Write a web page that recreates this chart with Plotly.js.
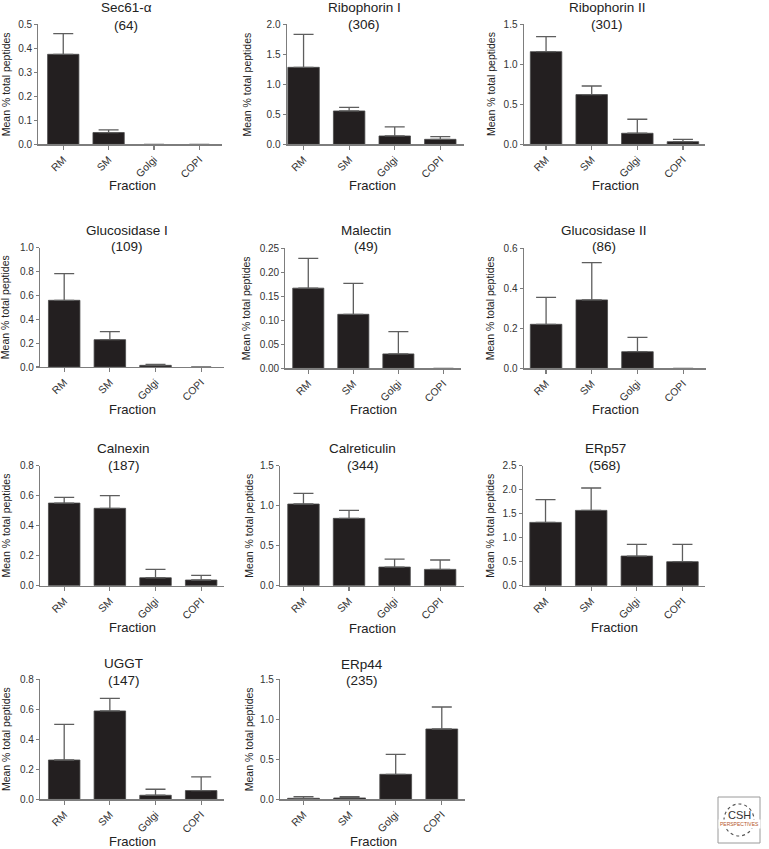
<!DOCTYPE html>
<html><head><meta charset="utf-8">
<script src="https://cdn.plot.ly/plotly-3.0.1.min.js"></script>
<style>html,body{margin:0;padding:0;background:#fff}#chart{width:769px;height:849px}</style>
</head><body><div id="chart"></div>
<script>
// ---------- data ----------
const fractions = ['RM', 'SM', 'Golgi', 'COPI'];
const proteinNames = ['Sec61-α', 'Ribophorin I', 'Ribophorin II', 'Glucosidase I', 'Malectin', 'Glucosidase II', 'Calnexin', 'Calreticulin', 'ERp57', 'UGGT', 'ERp44'];
const peptideCounts = [64, 306, 301, 109, 49, 86, 187, 344, 568, 147, 235];

const meanSec61 = [0.375, 0.049, 0, 0];
const errSec61 = [0.086, 0.011, 0, 0];
const meanRibophorin1 = [1.283, 0.556, 0.139, 0.083];
const errRibophorin1 = [0.55, 0.061, 0.15, 0.045];
const meanRibophorin2 = [1.158, 0.621, 0.138, 0.033];
const errRibophorin2 = [0.188, 0.108, 0.175, 0.029];
const meanGlucosidase1 = [0.559, 0.229, 0.014, 0];
const errGlucosidase1 = [0.223, 0.067, 0.008, 0];
const meanMalectin = [0.167, 0.1125, 0.030, 0];
const errMalectin = [0.062, 0.0645, 0.0465, 0];
const meanGlucosidase2 = [0.22, 0.342, 0.083, 0];
const errGlucosidase2 = [0.135, 0.186, 0.072, 0];
const meanCalnexin = [0.551, 0.516, 0.053, 0.038];
const errCalnexin = [0.038, 0.084, 0.056, 0.031];
const meanCalreticulin = [1.021, 0.842, 0.233, 0.204];
const errCalreticulin = [0.133, 0.10, 0.10, 0.117];
const meanERp57 = [1.319, 1.569, 0.618, 0.50];
const errERp57 = [0.473, 0.466, 0.243, 0.361];
const meanUGGT = [0.262, 0.589, 0.027, 0.058];
const errUGGT = [0.238, 0.084, 0.04, 0.091];
const meanERp44 = [0.0125, 0.0167, 0.3125, 0.879];
const errERp44 = [0.0205, 0.0163, 0.25, 0.275];

const yAxisMax = [0.5, 2.0, 1.5, 1.0, 0.25, 0.6, 0.8, 1.5, 2.5, 0.8, 1.5];
const yAxisStep = [0.1, 0.5, 0.5, 0.2, 0.05, 0.2, 0.2, 0.5, 0.5, 0.2, 0.5];

const xTitleText = 'Fraction';
const yTitleText = 'Mean % total peptides';

const allMeans = [meanSec61, meanRibophorin1, meanRibophorin2, meanGlucosidase1, meanMalectin, meanGlucosidase2, meanCalnexin, meanCalreticulin, meanERp57, meanUGGT, meanERp44];
const allErrs = [errSec61, errRibophorin1, errRibophorin2, errGlucosidase1, errMalectin, errGlucosidase2, errCalnexin, errCalreticulin, errERp57, errUGGT, errERp44];

// ---------- layout geometry (pixels) ----------
const W = 769, H = 849;
const geom = [
  {x0:38.3, x1:222,   r0:-0.55, r1:3.5,  top:24.3,  bot:144.3, tx:126,   ty1:7.5,   ty2:25.3,  fx:132.3, fy:185,   yx:6},
  {x0:286.7,x1:464,   r0:-0.37, r1:3.52, top:24.3,  bot:144.3, tx:364.3, ty1:7.2,   ty2:25,    fx:372.3, fy:185,   yx:247.3},
  {x0:523.7,x1:705.3, r0:-0.49, r1:3.49, top:24.3,  bot:144.3, tx:607,   ty1:7.2,   ty2:25,    fx:615,   fy:185.8, yx:491.7},
  {x0:40,   x1:224,   r0:-0.53, r1:3.5,  top:247.7, bot:367,   tx:126.7, ty1:230.3, ty2:246.7, fx:132.8, fy:409.2, yx:5.8},
  {x0:285.3,x1:461,   r0:-0.51, r1:3.39, top:248.3, bot:368.3, tx:366,   ty1:230.5, ty2:246.7, fx:373.5, fy:409.2, yx:246},
  {x0:523.7,x1:706,   r0:-0.49, r1:3.5,  top:248.3, bot:368.3, tx:604,   ty1:230.5, ty2:246.7, fx:615,   fy:409.5, yx:490},
  {x0:40,   x1:224,   r0:-0.53, r1:3.5,  top:465.7, bot:585.7, tx:123.7, ty1:448.8, ty2:465,   fx:132.8, fy:627.5, yx:5.8},
  {x0:280,  x1:464.3, r0:-0.515,r1:3.53, top:465.7, bot:585.7, tx:362.7, ty1:448.8, ty2:465,   fx:372.3, fy:628,   yx:249},
  {x0:522.7,x1:705.3, r0:-0.5,  r1:3.5,  top:465.7, bot:585.7, tx:605,   ty1:448.8, ty2:465,   fx:614,   fy:627,   yx:490},
  {x0:40,   x1:224,   r0:-0.53, r1:3.5,  top:679.3, bot:799.3, tx:123.8, ty1:663.8, ty2:680.8, fx:132.8, fy:841.5, yx:5.8},
  {x0:280,  x1:465.3, r0:-0.51, r1:3.51, top:679.3, bot:799.3, tx:362.3, ty1:664.2, ty2:680.7, fx:373.5, fy:841,   yx:249}
];
const px = x => x / W;
const py = y => 1 - y / H;

const FONT = 'Liberation Sans, Arial, Helvetica, sans-serif';
const AXC = '#7d7d7d';
const traces = [];
const layout = {
  width: W, height: H,
  margin: {l:0, r:0, t:0, b:0},
  paper_bgcolor: '#ffffff', plot_bgcolor: '#ffffff',
  showlegend: false,
  bargap: 0.31,
  font: {family: FONT, color: '#222'},
  annotations: [],
  shapes: []
};

geom.forEach((g, i) => {
  const n = i === 0 ? '' : String(i + 1);
  const means = allMeans[i];
  traces.push({
    type: 'bar',
    x: fractions,
    y: means,
    xaxis: 'x' + n, yaxis: 'y' + n,
    marker: {color: '#231f20', line: {color: '#4a4a4a', width: means.map(v => v > 0 ? 0.8 : 0)}},
    error_y: {type: 'data', symmetric: false,
              array: allErrs[i].map(v => v > 0 ? v : null),
              arrayminus: means.map(() => 0),
              color: '#5e5e5e', thickness: 1.3, width: 10},
    hoverinfo: 'x+y'
  });
  const dec = yAxisStep[i] < 0.1 ? 2 : 1;
  layout['xaxis' + n] = {
    domain: [px(g.x0), px(g.x1)], anchor: 'y' + n, type: 'category',
    range: [g.r0, g.r1], showline: true, linecolor: AXC, linewidth: 1.2,
    ticks: 'outside', ticklen: 4, tickcolor: AXC, tickwidth: 1.2,
    tickangle: -45, tickfont: {family: FONT, size: 10.5, color: '#333'},
    showgrid: false, zeroline: false, fixedrange: true
  };
  layout['yaxis' + n] = {
    domain: [py(g.bot), py(g.top)], anchor: 'x' + n,
    range: [0, yAxisMax[i]], tickmode: 'linear', tick0: 0, dtick: yAxisStep[i],
    tickformat: '.' + dec + 'f',
    showline: true, linecolor: AXC, linewidth: 1.2,
    ticks: 'outside', ticklen: 3, tickcolor: AXC, tickwidth: 1.2,
    tickfont: {family: FONT, size: 10, color: '#333'},
    showgrid: false, zeroline: false, fixedrange: true
  };
  layout.annotations.push({xref:'paper', yref:'paper', x:px(g.tx), y:py(g.ty1), xanchor:'center', yanchor:'middle',
    text: proteinNames[i], showarrow:false, font:{family:FONT, size:13.5, color:'#222'}});
  layout.annotations.push({xref:'paper', yref:'paper', x:px(g.tx), y:py(g.ty2), xanchor:'center', yanchor:'middle',
    text: '(' + peptideCounts[i] + ')', showarrow:false, font:{family:FONT, size:13.5, color:'#222'}});
  layout.annotations.push({xref:'paper', yref:'paper', x:px(g.fx), y:py(g.fy), xanchor:'center', yanchor:'middle',
    text: xTitleText, showarrow:false, font:{family:FONT, size:13, color:'#222'}});
  layout.annotations.push({xref:'paper', yref:'paper', x:px(g.yx), y:py((g.top + g.bot) / 2), xanchor:'center', yanchor:'middle',
    text: yTitleText, textangle:-90, showarrow:false, font:{family:FONT, size:10.5, color:'#222'}});
});

// publisher logo box (bottom right)
layout.shapes.push({type:'rect', xref:'paper', yref:'paper', x0:px(718), x1:px(760), y0:py(843), y1:py(797),
  line:{color:'#9a9a9a', width:1}, fillcolor:'#ffffff'});
layout.shapes.push({type:'circle', xref:'paper', yref:'paper', x0:px(724), x1:px(754), y0:py(836), y1:py(804),
  line:{color:'#555', width:1.2, dash:'dot'}});
layout.annotations.push({xref:'paper', yref:'paper', x:px(739), y:py(815), xanchor:'center', yanchor:'middle',
  text:'CSH', showarrow:false, font:{family:FONT, size:11, color:'#333'}});
layout.annotations.push({xref:'paper', yref:'paper', x:px(739), y:py(824), xanchor:'center', yanchor:'middle',
  text:'PERSPECTIVES', showarrow:false, bgcolor:'#ffffff', font:{family:FONT, size:5, color:'#b5562a'}});

Plotly.newPlot('chart', traces, layout, {displayModeBar: false, staticPlot: true});
</script>
</body></html>
